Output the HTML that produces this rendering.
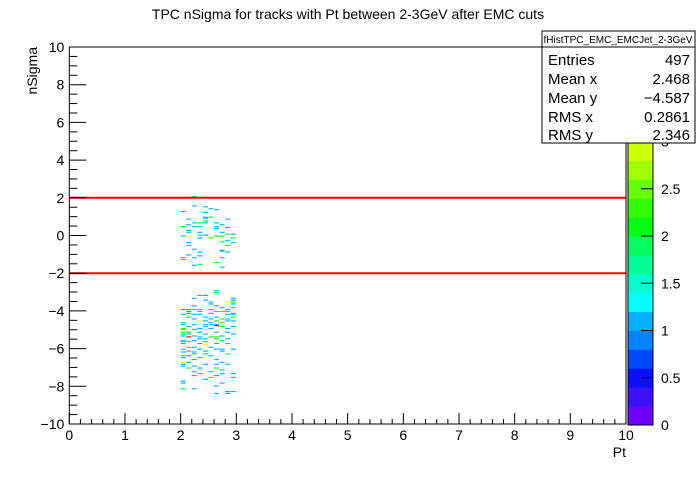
<!DOCTYPE html>
<html><head><meta charset="utf-8"><style>
body{margin:0;background:#fff;}
svg text{font-family:"Liberation Sans",sans-serif;}
</style></head><body>
<svg id="c" width="696" height="472" xmlns="http://www.w3.org/2000/svg">
<rect width="696" height="472" fill="#fff"/>
<text x="348" y="19" font-size="14" text-anchor="middle">TPC nSigma for tracks with Pt between 2-3GeV after EMC cuts</text>
<g id="cells"></g>
<g id="lines"></g>
<g id="axes"></g>
<g id="pal"></g>
<text transform="translate(37,47) rotate(-90)" font-size="14" text-anchor="end">nSigma</text>
<text x="626" y="457" font-size="14" text-anchor="end">Pt</text>
<g>
<rect x="542" y="31" width="153" height="112" fill="#fff" stroke="#000"/>
<line x1="542" y1="47" x2="695" y2="47" stroke="#000"/>
<text x="618" y="43" font-size="10" text-anchor="middle">fHistTPC_EMC_EMCJet_2-3GeV</text>
<g font-size="15">
<text x="548" y="65">Entries</text><text x="690" y="65" text-anchor="end">497</text>
<text x="548" y="84">Mean x</text><text x="690" y="84" text-anchor="end">2.468</text>
<text x="548" y="103">Mean y</text><text x="690" y="103" text-anchor="end">−4.587</text>
<text x="548" y="122">RMS x</text><text x="690" y="122" text-anchor="end">0.2861</text>
<text x="548" y="140">RMS y</text><text x="690" y="140" text-anchor="end">2.346</text>
</g></g>
</svg>
<script>
// y value (top edge of bin) for each row, x bin lower edges, and counts
const rowY=[2.1,1.6,1.55,1.45,1.4,1.3,1.25,1.0,0.95,0.9,0.8,0.7,0.6,0.5,0.45,0.4,0.3,0.2,0.1,0.05,0.0,-0.05,-0.1,-0.25,-0.3,-0.35,-0.5,-0.7,-0.75,-0.8,-0.85,-1.0,-1.05,-1.15,-1.25,-1.4,-1.5,-1.55,-1.65,
-2.9,-3.0,-3.15,-3.3,-3.4,-3.5,-3.6,-3.7,-3.8,-3.9,-4.0,-4.1,-4.15,-4.3,-4.4,-4.5,-4.6,-4.7,-4.75,-4.8,-4.9,-4.95,-5.1,-5.2,-5.3,-5.35,-5.45,-5.55,-5.6,-5.7,-5.75,-5.9,-6.0,-6.1,-6.15,-6.25,-6.35,-6.45,-6.55,-6.7,-6.8,-6.9,-7.0,-7.1,-7.2,-7.3,-7.4,-7.5,-7.6,-7.7,-7.8,-7.95,-8.1,-8.25,-8.35];
const rowX=[[2.2],[2.2],[2.4],[2.5],[2.6],[2.0],[2.4],[2.4,2.5],[2.4],[2.1,2.8],[2.4],[2.2,2.3,2.4,2.6],[2.1,2.7],[2.0,2.2,2.3,2.6],[2.8],[2.6],[2.1],[2.1,2.3,2.7],[2.8,2.9],[2.3,2.4],[2.0,2.6,2.7],[2.1],[2.3,2.5,2.9],[2.8],[2.7],[2.1,2.9],[2.1,2.8],[2.2],[2.7],[2.7],[2.3,2.8],[2.1],[2.3],[2.0,2.2,2.7],[2.0],[2.6],[2.3],[2.2],[2.7],
[2.6],[2.6],[2.3,2.4],[2.2,2.9],[2.4,2.9],[2.5,2.8,2.9],[2.5,2.9],[2.2,2.6],[2.7,2.9],[2.0,2.1,2.2,2.3,2.5,2.8],[2.1,2.3,2.6,2.7,2.8],[2.1,2.5,2.9],[2.0,2.2,2.3,2.8,2.9],[2.1,2.4,2.6,2.9],[2.2,2.5,2.7,2.8],[2.3,2.4,2.6,2.8,2.9],[2.0,2.5,2.7],[2.0,2.2,2.4,2.5,2.6],[2.6],[2.1,2.4,2.7,2.9],[2.0,2.3,2.5,2.8],[2.0,2.2,2.4],[2.0,2.1,2.3,2.6,2.8],[2.0,2.1,2.4,2.9],[2.0,2.2,2.7],[2.1,2.3,2.5,2.6],[2.3,2.4,2.6,2.8],[2.0,2.2,2.7],[2.0,2.1,2.4],[2.0,2.3,2.6,2.8],[2.4],[2.1,2.2,2.5],[2.0,2.3,2.6,2.7,2.9],[2.1,2.4,2.7],[2.0,2.2],[2.2,2.4,2.8],[2.0,2.1,2.5],[2.0,2.3],[2.2,2.6],[2.0,2.1,2.7],[2.0,2.4,2.6,2.8],[2.0,2.2],[2.1,2.3,2.6],[2.3,2.7],[2.2,2.5],[2.3,2.7,2.9],[2.2,2.6],[2.5,2.9],[2.4],[2.0],[2.0,2.7],[2.6],[2.0,2.2],[2.8,2.9],[2.6,2.8]];
const rowZ=[[2],[1],[1],[1],[1],[1],[1],[1,2],[1],[1,1],[2],[1,2,1,1],[1,1],[2,1,1,1],[1],[1],[1],[1,1,1],[2,1],[1,1],[1,2,2],[3],[1,2,2],[1],[2],[1,1],[2,2],[1],[1],[1],[1,1],[1],[1],[1,1,1],[2],[2],[2],[1],[1],
[1],[2],[1,1],[1,1],[1,1],[1,3,2],[1,1],[1,1],[1,1],[1,1,2,2,1,1],[1,1,2,2,2],[1,1,1],[1,1,1,1,1],[2,1,1,2],[1,1,2,1],[3,1,2,1,1],[1,1,2],[1,1,1,1,1],[4],[1,1,2,1],[2,1,1,1],[2,1,3],[2,2,1,1,1],[2,1,1,1],[1,1,1],[4,1,2,2],[1,1,2,1],[1,1,2],[2,2,2],[1,1,1,1],[3],[2,1,1],[1,1,1,1,1],[1,1,1],[1,1],[2,2,2],[2,1,1],[1,1],[1,1],[3,1,1],[1,1,1,1],[1,1],[2,1,2],[3,1],[1,1],[1,1,1],[1,1],[2,1],[1],[1],[1,1],[1],[2,1],[1,1],[1,1]];
const xTicks=[0,1,2,3,4,5,6,7,8,9,10];
const yTicks=[-10,-8,-6,-4,-2,0,2,4,6,8,10];
const palTicks=[0,0.5,1,1.5,2,2.5,3];
const cutY=[2,-2];
const bandColors=["#6e00ff","#3c10ff","#0a10ff","#0048ff","#0084ff","#00b0ff","#00ffff","#00ffd0","#00ff98","#00ff60","#00ff10","#30ff00","#68ff00","#a0ff00","#d0ff00","#ffee00","#ffc000","#ff9000","#ff5000","#ff0000"];
const zMax=4;

const NS="http://www.w3.org/2000/svg";
const L=69.3,R=626,T=47,B=424;
const X=v=>L+(v-0)/10*(R-L);
const Y=v=>B-(v+10)/20*(B-T);
const ZY=z=>425-z/zMax*(425-47);
function mk(tag,attrs,parent){const e=document.createElementNS(NS,tag);for(const k in attrs)e.setAttribute(k,attrs[k]);parent.appendChild(e);return e;}
const col=z=>bandColors[Math.min(bandColors.length-1,Math.floor(z/zMax*bandColors.length))];

const cells=document.getElementById('cells');
rowY.forEach((y,i)=>{rowX[i].forEach((x,j)=>{
  const r=mk('rect',{x:X(x),y:Y(y),width:X(x+0.1)-X(x)-0.5,height:Y(y-0.06)-Y(y),fill:col(rowZ[i][j])},cells);
  
  
});});

const lines=document.getElementById('lines');
cutY.forEach(v=>{
  const l=mk('line',{x1:L,x2:R,y1:Y(v),y2:Y(v),stroke:"#ff0000","stroke-width":2},lines);
  
  
});

const ax=document.getElementById('axes');
mk('rect',{x:L,y:T,width:R-L,height:B-T,fill:"none",stroke:"#000"},ax);
for(let v=0;v<=10.001;v+=0.2){const maj=Math.abs(v-Math.round(v))<1e-6;mk('line',{x1:X(v),x2:X(v),y1:B,y2:B-(maj?11:5),stroke:"#000"},ax);}
for(let v=-10;v<=10.001;v+=0.5){const maj=Math.abs(v/2-Math.round(v/2))<1e-6;mk('line',{x1:L,x2:L+(maj?17:8),y1:Y(v),y2:Y(v),stroke:"#000"},ax);}
xTicks.forEach(v=>{const t=mk('text',{x:X(v),y:B+16,"font-size":14,"text-anchor":"middle"},ax);t.textContent=v;
  
  });
yTicks.forEach(v=>{const t=mk('text',{x:L-5,y:Y(v)+5,"font-size":14,"text-anchor":"end"},ax);t.textContent=v<0?'−'+(-v):v;
  
  });

const pal=document.getElementById('pal');
bandColors.forEach((c,i)=>{const z0=i*zMax/bandColors.length,z1=(i+1)*zMax/bandColors.length;
  mk('rect',{x:628,y:ZY(z1),width:25,height:ZY(z0)-ZY(z1)+0.5,fill:c},pal);});
mk('rect',{x:628,y:47,width:25,height:378,fill:"none",stroke:"#000"},pal);
palTicks.forEach(v=>{mk('line',{x1:641,x2:653,y1:ZY(v),y2:ZY(v),stroke:"#000"},pal);
  const t=mk('text',{x:661,y:ZY(v)+5,"font-size":14},pal);t.textContent=v;
  
  });
</script>
</body></html>
